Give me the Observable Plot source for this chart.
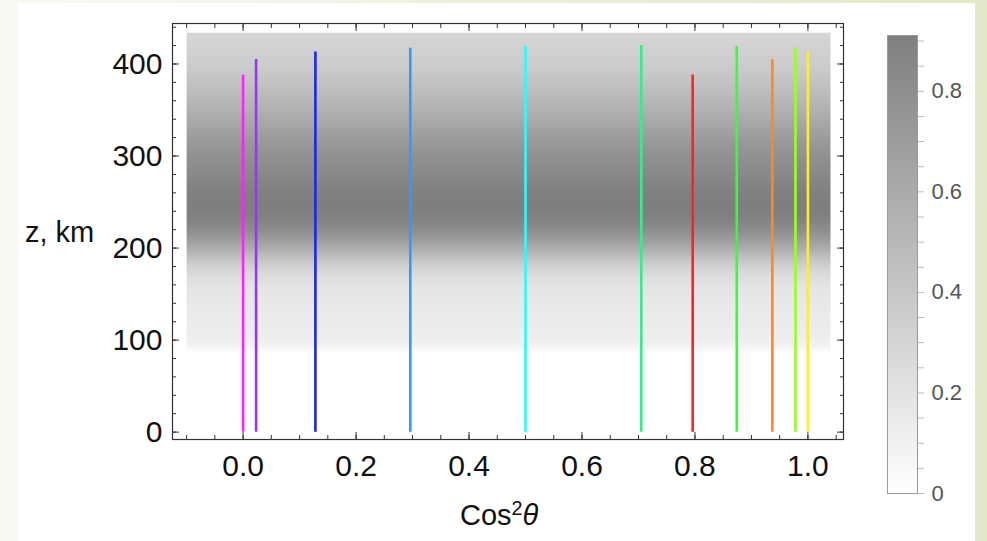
<!DOCTYPE html>
<html><head><meta charset="utf-8">
<script src="https://cdn.jsdelivr.net/npm/d3@7"></script>
<script src="https://cdn.jsdelivr.net/npm/@observablehq/plot@0.6"></script>
<style>
html,body{margin:0;padding:0;}
body{width:987px;height:541px;overflow:hidden;position:relative;background:linear-gradient(to right,#f8f9f1,#e2e8c8);font-family:"Liberation Sans",Arial,sans-serif;}
#panel{position:absolute;left:18px;top:3px;width:957px;height:538px;background:#fff;}
#main{position:absolute;left:0;top:0;}
#bar{position:absolute;left:860px;top:0;}
.ttl{position:absolute;font-size:29px;color:#111;line-height:1;white-space:nowrap;}
.ttl sup{font-size:0.68em;vertical-align:baseline;position:relative;top:-0.5em;}
</style></head><body>
<div id="panel"></div>
<div id="main"></div>
<div id="bar"></div>
<div class="ttl" style="left:25px;top:218px;">z, km</div>
<div class="ttl" style="left:460px;top:501px;">Cos<sup>2</sup><i>θ</i></div>
<script>
// vertical lines: cos^2(theta) position, top altitude (km), colour
const cos2 = [0.000, 0.023, 0.128, 0.296, 0.500, 0.705, 0.796, 0.874, 0.937, 0.978, 1.000];
const zTop = [388, 405, 413, 417, 419, 420, 388, 419, 405, 417, 413];
const lineColors = ["#ff22ff", "#9933ff", "#2222ee", "#3399ff", "#22ffff", "#33ee88", "#ff2222", "#33ff33", "#ff8822", "#99ff22", "#ffee22"];

// background density profile (altitude km -> value)
const zLevels = [88, 94, 100, 110, 120, 130, 140, 150, 160, 170, 180, 190, 200, 210, 220, 230, 240, 250, 260, 270, 280, 290, 300, 310, 320, 330, 340, 350, 360, 370, 380, 390, 400, 410, 420, 430, 434];
const density = [0.02, 0.08, 0.11, 0.13, 0.14, 0.15, 0.16, 0.17, 0.20, 0.25, 0.33, 0.45, 0.59, 0.71, 0.81, 0.88, 0.91, 0.91, 0.90, 0.87, 0.84, 0.81, 0.78, 0.74, 0.70, 0.65, 0.60, 0.55, 0.51, 0.47, 0.43, 0.39, 0.36, 0.34, 0.32, 0.30, 0.30];
const bgExtentX = [-0.1, 1.04];

// ticks
const xMajor = [0, 0.2, 0.4, 0.6, 0.8, 1.0];
const xMinor = d3.range(-2, 22).map(i => +(i * 0.05).toFixed(2));
const yMajor = [0, 100, 200, 300, 400];
const yMinor = d3.range(0, 23).map(i => i * 20);
const barMajor = [0, 0.2, 0.4, 0.6, 0.8];
const barMinor = d3.range(0, 19).map(i => +(i * 0.05).toFixed(2));
const colorDomain = [0, 0.911];

const font = '"Liberation Sans", Arial, sans-serif';
const colorScale = {type: "linear", domain: colorDomain, range: ["#ffffff", "#7f7f7f"]};

const bgPoints = zLevels.flatMap((z, i) => bgExtentX.map(x => ({x, z, v: density[i]})));
const lines = cos2.map((c, i) => ({c, top: zTop[i], color: lineColors[i]}));

const main = Plot.plot({
  width: 860, height: 541,
  marginLeft: 172, marginRight: 17, marginTop: 23, marginBottom: 102,
  x: {domain: [-0.125, 1.063], label: null},
  y: {domain: [-8, 444], label: null},
  color: colorScale,
  style: {background: "transparent", fontFamily: font, color: "#111"},
  marks: [
    Plot.raster(bgPoints, {x: "x", y: "z", fill: "v", interpolate: "barycentric",
      x1: bgExtentX[0], x2: bgExtentX[1], y1: zLevels[0], y2: zLevels[zLevels.length - 1]}),
    ...lines.map(d => Plot.ruleX([d], {x: "c", y1: 0, y2: "top", stroke: d.color, strokeWidth: 2.6})),
    Plot.frame({stroke: "#333", strokeWidth: 1.2}),
    Plot.axisX(xMinor, {anchor: "bottom", tickSize: -4, stroke: "#333", fill: "none", label: null}),
    Plot.axisX(xMajor, {anchor: "bottom", tickSize: -7, stroke: "#333", fill: "none", label: null}),
    Plot.axisX(xMinor, {anchor: "top", tickSize: -4, stroke: "#333", fill: "none", label: null}),
    Plot.axisX(xMajor, {anchor: "top", tickSize: -7, stroke: "#333", fill: "none", label: null}),
    Plot.axisY(yMinor, {anchor: "left", tickSize: -4, stroke: "#333", fill: "none", label: null}),
    Plot.axisY(yMajor, {anchor: "left", tickSize: -7, stroke: "#333", fill: "none", label: null}),
    Plot.axisY(yMinor, {anchor: "right", tickSize: -4, stroke: "#333", fill: "none", label: null}),
    Plot.axisY(yMajor, {anchor: "right", tickSize: -7, stroke: "#333", fill: "none", label: null}),
    Plot.axisX(xMajor, {anchor: "bottom", tickSize: 0, tickPadding: 15, fontSize: 30, fill: "#111",
      tickFormat: d3.format(".1f"), label: null}),
    Plot.axisY(yMajor, {anchor: "left", tickSize: 0, tickPadding: 10, fontSize: 30, fill: "#111", label: null})
  ]
});
document.getElementById("main").append(main);

const bar = Plot.plot({
  width: 120, height: 541,
  marginLeft: 27, marginRight: 63, marginTop: 35, marginBottom: 48,
  x: {domain: [0, 1], axis: null},
  y: {domain: colorDomain, label: null, axis: null},
  color: colorScale,
  style: {background: "transparent", fontFamily: font},
  marks: [
    Plot.raster({fill: (x, y) => y, x1: 0, x2: 1, y1: colorDomain[0], y2: colorDomain[1]}),
    Plot.frame({stroke: "#999"}),
    Plot.axisY(barMinor, {anchor: "right", tickSize: 6, stroke: "#bbb", fill: "none", label: null}),
    Plot.axisY(barMajor, {anchor: "right", tickSize: 0, tickPadding: 14, fontSize: 22, fill: "#555",
      tickFormat: d => d === 0 ? "0" : d.toFixed(1), label: null})
  ]
});
document.getElementById("bar").append(bar);
</script>
</body></html>
